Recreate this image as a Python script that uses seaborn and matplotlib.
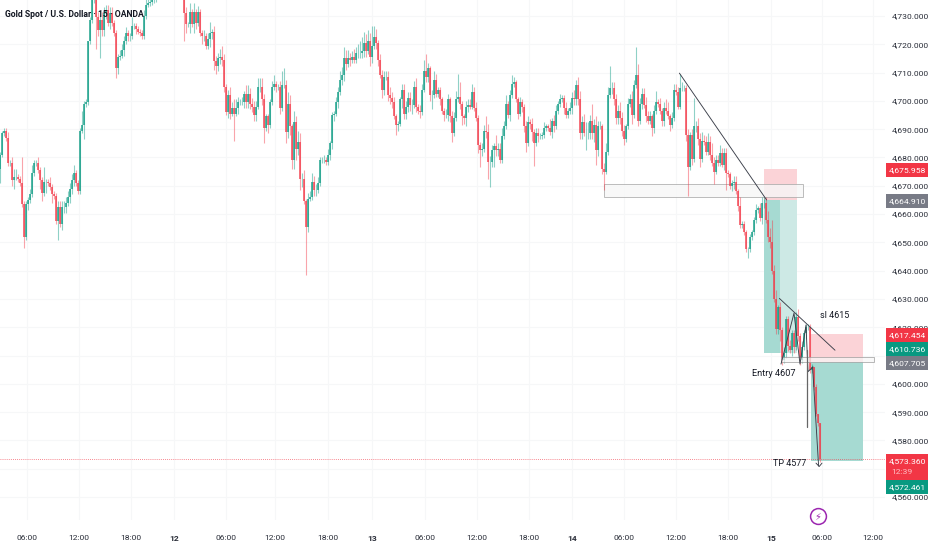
import numpy as np
import pandas as pd
import matplotlib
matplotlib.use('Agg')
import matplotlib.pyplot as plt
from matplotlib.patches import Rectangle
import seaborn as sns

# Closes, one row = 10 bars
first_open = 4676
closes = [
    4681, 4688.5, 4689.5, 4687, 4678, 4678, 4672, 4673, 4673, 4672.5,
    4671, 4663.5, 4652, 4663.5, 4665, 4667, 4674.5, 4678, 4678, 4675.5,
    4672, 4667.5, 4671.5, 4671.5, 4671, 4669.5, 4667, 4666.5, 4657.5, 4662.5,
    4656.5, 4662.5, 4662.5, 4664, 4666, 4669, 4672, 4674.5, 4671, 4668,
    4689.5, 4691.5, 4699, 4699.5, 4721, 4728.5, 4735.5, 4735.5, 4729.5, 4725,
    4728.5, 4725, 4731, 4732, 4727.5, 4731, 4727.5, 4724, 4711.5, 4715.5,
    4716, 4718, 4721, 4724, 4723, 4723, 4726.5, 4726.5, 4725.5, 4724.5,
    4724, 4723, 4730, 4734, 4734.5, 4735, 4735.5, 4737, 4739, 4741,
    4742, 4743, 4744, 4745, 4746, 4746, 4745, 4745, 4744, 4743,
    4741, 4739, 4731, 4727, 4727, 4731.5, 4727, 4731.5, 4727.5, 4731.5,
    4724, 4723, 4723, 4719.5, 4722, 4724, 4724.5, 4714, 4712.5, 4715,
    4715.5, 4714.5, 4705, 4696, 4702, 4695.5, 4697.5, 4695.5, 4697.5, 4699.5,
    4699.5, 4699.5, 4702.5, 4699.5, 4702.5, 4699, 4698, 4695, 4698, 4705,
    4705, 4700.5, 4690.5, 4694.5, 4691.5, 4699.5, 4705, 4706, 4705, 4705,
    4697.5, 4705.5, 4705.5, 4689, 4699, 4691, 4679, 4692.5, 4683, 4685.5,
    4672.5, 4672.5, 4664.5, 4655.5, 4665.5, 4666, 4671.5, 4668.5, 4668.5, 4671,
    4679, 4679, 4679, 4678.5, 4681, 4685, 4695, 4695.5, 4699.5, 4703,
    4707.5, 4709, 4715, 4713, 4715, 4714.5, 4715.5, 4714.5, 4717, 4717,
    4717, 4717.5, 4720.5, 4717.5, 4721, 4715.5, 4719.5, 4722.5, 4720.5, 4714.5,
    4709, 4704, 4708.5, 4708.5, 4702, 4701, 4699.5, 4694.5, 4691.5, 4692,
    4700.5, 4704, 4695.5, 4698, 4701, 4698.5, 4698.5, 4705, 4698, 4696.5,
    4696, 4704, 4710.5, 4708.5, 4711.5, 4702, 4702, 4707.5, 4702.5, 4704,
    4700.5, 4696.5, 4695, 4695, 4700.5, 4694.5, 4688.5, 4694, 4700.5, 4701.5,
    4699, 4694.5, 4694, 4698, 4698.5, 4698, 4703, 4697.5, 4694, 4684.5,
    4682.5, 4683, 4689.5, 4689, 4678.5, 4678.5, 4682.5, 4684, 4682.5, 4683,
    4679, 4687.5, 4691, 4699, 4695, 4702, 4706, 4706.5, 4700.5, 4695.5,
    4699.5, 4698, 4691, 4685, 4692.5, 4692, 4689, 4685, 4688.5, 4687.5,
    4687.5, 4688, 4690.5, 4691, 4690.5, 4689, 4693, 4691, 4696.5, 4699,
    4700.5, 4701, 4697.5, 4695, 4696.5, 4697.5, 4701, 4700.5, 4705.5, 4700.5,
    4688.5, 4692.5, 4688.5, 4688.5, 4688.5, 4693, 4688.5, 4691.5, 4682.5, 4691,
    4691, 4676, 4675, 4682, 4702, 4704.5, 4704.5, 4700.5, 4694, 4696.5,
    4694, 4689.5, 4686.5, 4691, 4699, 4700.5, 4695, 4705.5, 4709, 4693,
    4699, 4702.5, 4698.5, 4694.5, 4693, 4694.5, 4690.5, 4696.5, 4699.5, 4699,
    4696.5, 4693, 4697.5, 4696.5, 4694.5, 4691.5, 4694, 4704, 4703, 4698,
    4704.5, 4704.5, 4704.5, 4688, 4676.5, 4688, 4679.5, 4691, 4691, 4686.5,
    4679.5, 4686, 4685.5, 4682, 4685.5, 4681, 4678, 4675, 4679, 4678,
    4681.5, 4677.5, 4681.5, 4674.5, 4674, 4670, 4671, 4671.5, 4668, 4663,
    4656, 4656.5, 4653.5, 4647.5, 4647.5, 4652, 4653.5, 4658, 4661.5, 4662,
    4658.5, 4664, 4664, 4658, 4652, 4650, 4640, 4630, 4619.5, 4627,
    4619, 4608.5, 4611, 4623, 4613.5, 4612, 4618, 4613, 4623.5, 4617,
    4608.5, 4613, 4618, 4620, 4620, 4605, 4606, 4599, 4589.5, 4586,
    4573.4,
]

# Upper wick length of each bar, in dollars
upper_wicks = [
    1, 1, 1, 1, 2, 1, 2, 3, 3, 1,
    1, 9, 1, 1, 1, 2, 3, 1, 1, 2,
    1, 1, 5, 1, 1, 2, 1, 1, 1, 2,
    2, 2, 2, 2, 2, 2, 2, 3, 1, 1,
    1, 5, 1, 1, 0, 1, 1, 1, 1, 2,
    2, 3, 2, 2, 2, 2, 2, 1, 1, 1,
    2, 2, 2, 2, 1, 1, 3, 1, 1, 1,
    1, 1, 2, 2, 3, 1, 1, 1, 2, 2,
    1, 1, 1, 1, 1, 1, 1, 1, 1, 1,
    1, 1, 3, 2, 1, 3, 1, 3, 1, 2,
    1, 1, 2, 1, 2, 4, 1, 2, 2, 2,
    3, 4, 2, 1, 2, 3, 2, 3, 3, 2,
    1, 2, 1, 3, 3, 2, 2, 2, 2, 3,
    3, 3, 2, 1, 1, 1, 2, 3, 1, 1,
    2, 5, 6, 2, 4, 3, 1, 4, 2, 4,
    3, 2, 3, 1, 2, 2, 3, 2, 2, 2,
    1, 1, 2, 1, 2, 1, 1, 1, 2, 2,
    3, 3, 4, 3, 3, 2, 2, 3, 2, 3,
    4, 5, 4, 3, 4, 3, 7, 4, 3, 1,
    2, 2, 2, 2, 2, 3, 2, 2, 1, 1,
    1, 2, 2, 2, 2, 2, 2, 2, 3, 1,
    2, 2, 4, 6, 2, 1, 2, 3, 2, 1,
    1, 1, 1, 2, 2, 1, 2, 2, 3, 8,
    5, 1, 1, 2, 2, 2, 3, 2, 2, 1,
    1, 2, 2, 5, 3, 2, 2, 1, 4, 2,
    2, 3, 2, 3, 1, 2, 3, 2, 1, 1,
    2, 1, 1, 2, 2, 1, 2, 1, 2, 2,
    1, 1, 2, 1, 1, 3, 1, 2, 2, 1,
    2, 1, 1, 2, 1, 2, 2, 3, 2, 3,
    3, 2, 3, 4, 4, 2, 6, 2, 3, 2,
    2, 1, 2, 3, 3, 8, 2, 2, 2, 2,
    3, 2, 2, 1, 2, 2, 3, 2, 10, 4,
    2, 2, 2, 3, 2, 2, 1, 2, 4, 1,
    2, 1, 2, 3, 3, 1, 2, 2, 2, 2,
    5, 2, 1, 1, 2, 1, 2, 10, 2, 3,
    2, 3, 2, 2, 3, 2, 4, 2, 2, 2,
    3, 2, 2, 2, 1, 1, 1, 2, 2, 1,
    3, 1, 1, 1, 1, 1, 1, 1, 2, 1,
    2, 2, 2, 2, 3, 3, 8, 2, 3, 1,
    2, 1, 2, 1, 1, 2, 1, 1, 2, 3,
    1, 2, 1, 1, 1, 1, 1, 0, 1, 0,
    0,
]

# Lower wick length of each bar, in dollars
lower_wicks = [
    5, 1, 1, 1, 1, 1, 2, 3, 1, 1,
    1, 1, 4, 1, 2, 1, 1, 1, 1, 1,
    3, 3, 1, 4, 1, 1, 3, 1, 1, 6.5,
    1, 2, 2, 2, 1, 2, 2, 2, 1, 1,
    1, 1, 5, 1, 1, 1, 1, 1, 11, 2,
    10, 2, 2, 2, 1, 2, 1, 1, 3.5, 2,
    1, 1, 2, 1, 2, 2, 1, 1, 2, 1,
    1, 1, 1, 1, 1, 1, 1, 1, 2, 2,
    1, 1, 1, 1, 1, 1, 1, 1, 1, 1,
    1, 1, 10, 3, 1, 3, 1, 3, 2, 1,
    1, 3, 2, 1, 1, 3, 2, 3, 3, 2,
    2, 2, 2, 1, 2, 2, 1, 9.5, 1, 2,
    1, 1, 2, 2, 2, 2, 2, 2, 2, 1,
    2, 2, 5.5, 1, 3, 1, 1, 1, 2, 1,
    2, 1, 1, 4, 2, 3, 3, 3, 4, 2,
    4, 3, 1, 17, 2, 1, 1, 2, 2, 1,
    1, 1, 1, 1, 1, 2, 2, 2, 1, 2,
    1, 2, 2, 2, 1, 2, 1, 1, 1, 2,
    2, 2, 2, 2, 1, 3, 2, 1, 2, 2,
    1, 3, 2, 1, 2, 2, 2, 1, 3.5, 2,
    1, 3, 2, 2, 2, 2, 3, 1, 2, 1,
    2, 1, 1, 2, 2, 2, 5, 1, 1, 1,
    2, 1, 2, 1, 2, 2, 3, 1, 1, 1,
    2, 3, 2, 3, 2, 1, 1, 1, 1, 3,
    6, 2, 1, 2, 6, 9, 2, 6, 2, 2,
    1, 1, 1, 1, 1, 2, 1, 1, 1, 2,
    1, 2, 2, 3, 1, 2, 3, 8, 1, 2,
    1, 1, 1, 1, 1, 1, 2, 2, 1, 1,
    1, 1, 2, 1, 1, 1, 2, 2, 2, 2,
    2, 2, 1, 6, 2, 2, 2, 3, 5, 2,
    1, 2, 6.5, 1, 1, 1, 2, 2, 2, 2,
    2, 2, 2, 1, 1, 1, 3, 1, 1, 2,
    1, 2, 1, 2, 1, 1, 3, 2, 1, 1,
    1, 2, 2, 1, 1, 2, 1, 1, 1, 1,
    1, 1, 1, 2, 10, 1, 2, 1, 2, 2,
    3, 1, 1, 1, 1, 2, 1, 4.5, 1, 1,
    1, 1, 2, 6, 1, 1, 2, 2, 1, 2,
    1, 1, 1, 1, 3, 1, 1, 1, 1, 1,
    1, 2, 2, 1, 2, 2, 1, 1, 2, 2,
    4, 2, 1, 2, 2, 1, 2, 2, 1, 2,
    2, 1, 1, 2, 1, 1, 1, 1, 1, 1,
    0.9,
]

# Axis labels, 4570 and 4610 sit behind the price tags
price_ticks = list(range(4560, 4740, 10))
hidden_prices = [4570, 4610]
time_ticks = [13.5, 39.5, 65.5, 87, 113, 137.5, 164, 186, 212.5, 238.5, 264.5, 286, 312, 338, 364, 385.5, 411, 436.5]
time_labels = ['06:00', '12:00', '18:00', '12', '06:00', '12:00', '18:00', '13', '06:00', '12:00', '18:00', '14',
               '06:00', '12:00', '18:00', '15', '06:00', '12:00']
day_labels = ['12', '13', '14', '15']

# Price tags on the right: centre price, text, colour
tag_prices = [4675.6, 4664.6, 4617.3, 4612.3, 4607.4, 4563.6]
tag_texts = ['4,675.958', '4,664.910', '4,617.454', '4,610.736', '4,607.705', '4,572.461']
tag_colors = ['#f23645', '#787b86', '#f23645', '#089981', '#787b86', '#089981']
last_price = 4573.36
countdown = '12:39'

RED = '#f23645'
GREEN = '#089981'
LABEL_SIZE = 6.1

opens = np.array([first_open] + closes[:-1], dtype=float)
close_arr = np.array(closes, dtype=float)
highs = np.maximum(opens, close_arr) + np.array(upper_wicks)
lows = np.minimum(opens, close_arr) - np.array(lower_wicks)
bars = np.arange(len(closes))
direction = np.where(close_arr >= opens, 'up', 'down')

wick_df = pd.DataFrame({'bar': np.r_[bars, bars], 'price': np.r_[lows, highs], 'dir': np.r_[direction, direction]})
body_df = pd.DataFrame({'bar': np.r_[bars, bars], 'price': np.r_[opens, close_arr], 'dir': np.r_[direction, direction]})

sns.set_theme(style='white')
plt.rcParams['font.family'] = ['Roboto', 'DejaVu Sans']

fig = plt.figure(figsize=(9.32, 5.5), dpi=100)
ax = fig.add_axes([0, 30 / 550, 885 / 932, 520 / 550])

# Trade boxes and zones
ax.add_patch(Rectangle((382, 4664.9), 16.5, 11.06, fc='#fbd3d7', ec='none', zorder=1))
ax.add_patch(Rectangle((382, 4610.74), 16.5, 54.16, fc='#cde9e5', ec='none', zorder=1))
ax.add_patch(Rectangle((382, 4610.74), 8, 54.16, fc='#a6dad2', ec='none', zorder=1))
ax.add_patch(Rectangle((405.5, 4607.7), 26, 9.75, fc='#fbd3d7', ec='none', zorder=1))
ax.add_patch(Rectangle((405.5, 4572.6), 26, 35.1, fc='#a6dad2', ec='none', zorder=1))
ax.add_patch(Rectangle((302, 4665.9), 99.5, 4.7, fc='#f7f7f7', ec='#ababab', lw=0.7, alpha=0.8, zorder=1.5))

# Candles
sns.lineplot(data=wick_df, x='bar', y='price', units='bar', estimator=None, hue='dir',
             palette={'up': GREEN, 'down': RED}, legend=False, lw=0.8, alpha=0.45,
             solid_capstyle='butt', zorder=2, ax=ax)
sns.lineplot(data=body_df, x='bar', y='price', units='bar', estimator=None, hue='dir',
             palette={'up': GREEN, 'down': RED}, legend=False, lw=1.1, alpha=0.9,
             solid_capstyle='butt', zorder=2.5, ax=ax)

# Zone over the candles, last price line
ax.add_patch(Rectangle((390.5, 4607.6), 46.5, 2, fc='#f7f7f7', ec='#9a9a9a', lw=0.7, alpha=0.7, zorder=3))
ax.axhline(last_price, color=RED, lw=0.6, alpha=0.8, ls=(0, (1, 1.5)), zorder=2)

# Hand drawn lines
line_kw = dict(color='#3a3e49', lw=0.65, zorder=4)
ax.plot([339.7, 383.3], [4709.8, 4665], **line_kw)
ax.plot([389.7, 417.5], [4630.2, 4611.9], **line_kw)
ax.plot([390.5, 397, 400, 403, 404, 406.5], [4607, 4625, 4607, 4620.8, 4604.3, 4606], **line_kw)
ax.plot([403.7, 403.7], [4612, 4584.9], color='#666666', lw=0.9, zorder=4)
ax.plot([406.3, 409.3], [4606, 4571], **line_kw)
ax.plot([408, 409.6, 411], [4572, 4570.8, 4572], **line_kw)

ax.text(417.5, 4624.3, 'sl 4615', fontsize=6.5, color='#131722', ha='center', va='center', zorder=5)
ax.text(387, 4603.5, 'Entry 4607', fontsize=6.6, color='#131722', ha='center', va='center', zorder=5)
ax.text(395, 4571.7, 'TP 4577', fontsize=6.5, color='#131722', ha='center', va='center', zorder=5)

ax.text(2.5, 4730.7, 'Gold Spot / U.S. Dollar · 15 · OANDA', fontsize=6.2, fontweight='bold',
        color='#131722', ha='left', va='center', zorder=6)

# Axes
ax.set_xlim(0, 442.5)
ax.set_ylim(4551.9, 4735.65)
ax.yaxis.tick_right()
ax.set_yticks(price_ticks)
ax.set_yticklabels(['' if p in hidden_prices else f'{p:,.3f}' for p in price_ticks])
ax.set_xticks(time_ticks)
ax.set_xticklabels(time_labels)
for lab in ax.get_xticklabels():
    if lab.get_text() in day_labels:
        lab.set_fontweight('bold')
ax.tick_params(axis='both', length=0, labelsize=LABEL_SIZE, labelcolor='#2a2e39')
ax.tick_params(axis='y', pad=4.5)
ax.tick_params(axis='x', pad=11)
ax.grid(True, color='#f6f7f8', lw=0.8)
ax.set_axisbelow(True)
ax.set_xlabel('')
ax.set_ylabel('')
sns.despine(ax=ax, left=True, bottom=True)

# Price tags
tag_h = 4.95
for price, text, color in zip(tag_prices, tag_texts, tag_colors):
    ax.add_patch(Rectangle((443, price - tag_h / 2), 21, tag_h, fc=color, ec='none', clip_on=False, zorder=7))
    ax.text(453.5, price, text, fontsize=LABEL_SIZE, color='white', ha='center', va='center', clip_on=False, zorder=8)
# Last price tag also holds the countdown
ax.add_patch(Rectangle((443, 4566), 21, 9.2, fc=RED, ec='none', clip_on=False, zorder=7))
ax.text(453.5, 4572.7, '4,573.360', fontsize=LABEL_SIZE, color='white', ha='center', va='center', clip_on=False, zorder=8)
ax.text(445.8, 4568.7, countdown, fontsize=LABEL_SIZE, color='#ffc0c5', ha='left', va='center', clip_on=False, zorder=8)

# Lightning marker under the last bar
ax.scatter([408.8], [4553.2], s=130, fc='white', ec='#9c27b0', lw=1.1, clip_on=False, zorder=6)
ax.text(408.8, 4553.2, '\u26a1', fontsize=7, color='#9c27b0', ha='center', va='center',
        family=['DejaVu Sans'], clip_on=False, zorder=7)

fig.savefig('out.png', dpi=100)
